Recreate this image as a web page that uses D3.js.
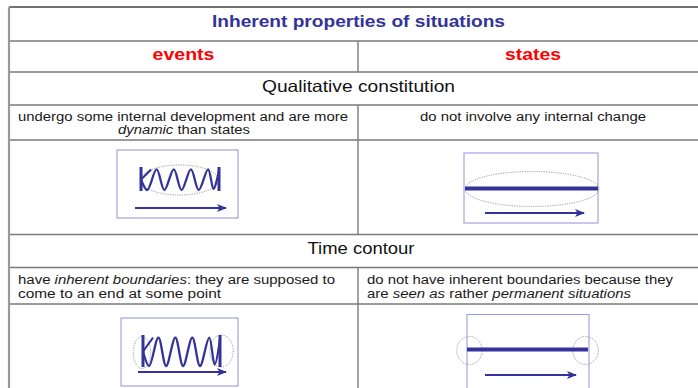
<!DOCTYPE html>
<html><head><meta charset="utf-8">
<script src="https://cdn.jsdelivr.net/npm/d3@7"></script>
<style>html,body{margin:0;padding:0;background:#fff;overflow:hidden}svg{display:block}</style>
</head><body>
<script>
// ---------- content ----------
const titleText = "Inherent properties of situations";
const columns = ["events", "states"];
const sections = ["Qualitative constitution", "Time contour"];
const descQualEvents = [
  [{t: "undergo some internal development and are more"}],
  [{t: "dynamic", i: true}, {t: " than states"}]
];
const descQualStates = [
  [{t: "do not involve any internal change"}]
];
const descTimeEvents = [
  [{t: "have "}, {t: "inherent boundaries", i: true}, {t: ": they are supposed to"}],
  [{t: "come to an end at some point"}]
];
const descTimeStates = [
  [{t: "do not have inherent boundaries because they"}],
  [{t: "are "}, {t: "seen as", i: true}, {t: " rather "}, {t: "permanent situations", i: true}]
];
// coil shape in normalized units between the two boundary bars
const coilX = [0, 0.08, 0.2, 0.3, 0.42, 0.52, 0.64, 0.74, 0.86, 0.93, 1];
const coilY = [0.5, 1, 0.02, 1, 0.02, 1, 0.02, 1, 0.02, 0.95, 0.08];
const coilArmX = [0, 0.13];
const coilArmY = [0.5, 0.02];

// ---------- layout ----------
const W = 698, H = 388;
const L = 9, R = 707, MID = 358;
const rowY = [7, 41, 72, 105, 140, 234.5, 267.5, 304, 420];
const NAVY = "#33339a", BOX = "#9c9ce2", GRID = "#7a7a7a", DOT = "#999";
const FONT = "'Liberation Sans', Arial, Helvetica, sans-serif";

const svg = d3.select("body").append("svg").attr("width", W).attr("height", H);
const defs = svg.append("defs");
defs.append("marker").attr("id", "ah").attr("viewBox", "0 0 10 8")
  .attr("refX", 9).attr("refY", 4).attr("markerWidth", 10).attr("markerHeight", 8)
  .attr("markerUnits", "userSpaceOnUse").attr("orient", "auto")
  .append("path").attr("d", "M0,0 L10,4 L0,8 L2.5,4 Z").attr("fill", NAVY);

// ---------- grid ----------
const g = svg.append("g");
rowY.slice(0, 8).forEach((y, k) => {
  g.append("line").attr("x1", L).attr("x2", R).attr("y1", y).attr("y2", y)
    .attr("stroke", k === 0 ? "#444" : GRID).attr("stroke-width", k === 0 ? 1.6 : 1.5);
});
g.append("line").attr("x1", L).attr("x2", L).attr("y1", rowY[0]).attr("y2", H)
  .attr("stroke", "#999").attr("stroke-width", 2.2);
[[rowY[1], rowY[2]], [rowY[3], rowY[5]], [rowY[6], H]].forEach(([a, b]) => {
  g.append("line").attr("x1", MID).attr("x2", MID).attr("y1", a).attr("y2", b)
    .attr("stroke", GRID).attr("stroke-width", 1.4);
});

// ---------- text helper ----------
function textLine(segs, x, y, opt) {
  const t = svg.append("text").attr("x", x).attr("y", y)
    .attr("font-family", FONT).attr("font-size", opt.size)
    .attr("font-weight", opt.bold ? "bold" : "normal")
    .attr("fill", opt.color || "#1a1a1a")
    .attr("text-anchor", opt.anchor || "start");
  segs.forEach(s => t.append("tspan").text(s.t).attr("font-style", s.i ? "italic" : "normal"));
  if (opt.width) t.attr("textLength", opt.width).attr("lengthAdjust", "spacingAndGlyphs");
  return t;
}

textLine([{t: titleText}], 358.5, 27, {size: 16.5, bold: true, color: "#333399", anchor: "middle", width: 293});
textLine([{t: columns[0]}], 183.5, 60, {size: 17, bold: true, color: "#ff0000", anchor: "middle", width: 62});
textLine([{t: columns[1]}], 533, 60, {size: 17, bold: true, color: "#ff0000", anchor: "middle", width: 56});
textLine([{t: sections[0]}], 358.5, 92, {size: 16.5, color: "#111", anchor: "middle", width: 193});
textLine([{t: sections[1]}], 361, 254, {size: 16.5, color: "#111", anchor: "middle", width: 107});

const BS = 12.3;
textLine(descQualEvents[0], 18, 121, {size: BS, width: 330});
textLine(descQualEvents[1], 184, 134, {size: BS, anchor: "middle", width: 132});
textLine(descQualStates[0], 533, 121, {size: BS, anchor: "middle", width: 226});
textLine(descTimeEvents[0], 18, 284, {size: BS, width: 317});
textLine(descTimeEvents[1], 18, 298, {size: BS, width: 203});
textLine(descTimeStates[0], 367, 284, {size: BS, width: 306});
textLine(descTimeStates[1], 367, 298, {size: BS, width: 264});

// ---------- diagrams ----------
function box(x0, y0, x1, y1) {
  svg.append("rect").attr("x", x0).attr("y", y0).attr("width", x1 - x0).attr("height", y1 - y0)
    .attr("fill", "none").attr("stroke", BOX).attr("stroke-width", 1.1);
}
function dotEllipse(cx, cy, rx, ry) {
  svg.append("ellipse").attr("cx", cx).attr("cy", cy).attr("rx", rx).attr("ry", ry)
    .attr("fill", "none").attr("stroke", DOT).attr("stroke-width", 1).attr("stroke-dasharray", "1.2,1.2");
}
function arrow(x0, x1, y) {
  svg.append("line").attr("x1", x0).attr("x2", x1).attr("y1", y).attr("y2", y)
    .attr("stroke", NAVY).attr("stroke-width", 1.8).attr("marker-end", "url(#ah)");
}
function coil(xl, xr, yt, yb) {
  const sx = d3.scaleLinear().domain([0, 1]).range([xl, xr]);
  const sy = d3.scaleLinear().domain([0, 1]).range([yt, yb]);
  const smooth = d3.line().x(d => sx(d[0])).y(d => sy(d[1])).curve(d3.curveCatmullRom.alpha(0.5));
  const straight = d3.line().x(d => sx(d[0])).y(d => sy(d[1]));
  [xl, xr].forEach(x => svg.append("line").attr("x1", x).attr("x2", x).attr("y1", yt - 2).attr("y2", yb + 1)
    .attr("stroke", NAVY).attr("stroke-width", 3));
  svg.append("path").attr("d", smooth(coilX.map((x, k) => [x, coilY[k]])))
    .attr("fill", "none").attr("stroke", NAVY).attr("stroke-width", 2.3).attr("stroke-linejoin", "round");
  svg.append("path").attr("d", straight(coilArmX.map((x, k) => [x, coilArmY[k]])))
    .attr("fill", "none").attr("stroke", NAVY).attr("stroke-width", 2.1);
}
function bar(x0, x1, y) {
  svg.append("line").attr("x1", x0).attr("x2", x1).attr("y1", y).attr("y2", y)
    .attr("stroke", NAVY).attr("stroke-width", 4);
}

// events / qualitative
box(117, 150, 238, 218);
dotEllipse(179.5, 180, 39, 15);
coil(141, 219, 169, 190);
arrow(135, 226, 208);

// states / qualitative
box(464, 153, 598, 223);
dotEllipse(532, 189, 67, 17.5);
bar(465, 598, 188.5);
arrow(485, 584, 213);

// events / time contour
box(121, 318, 238, 386);
dotEllipse(142, 352.5, 8.7, 16);
dotEllipse(221.5, 351, 11.7, 16);
coil(143, 220, 337, 366);
arrow(138, 226, 372);

// states / time contour
box(467, 314.5, 589, 400);
dotEllipse(469.5, 350.5, 12.7, 14);
dotEllipse(585.5, 350.5, 12.8, 14);
bar(467, 588, 349.5);
arrow(485, 576, 375);
</script>
</body></html>
